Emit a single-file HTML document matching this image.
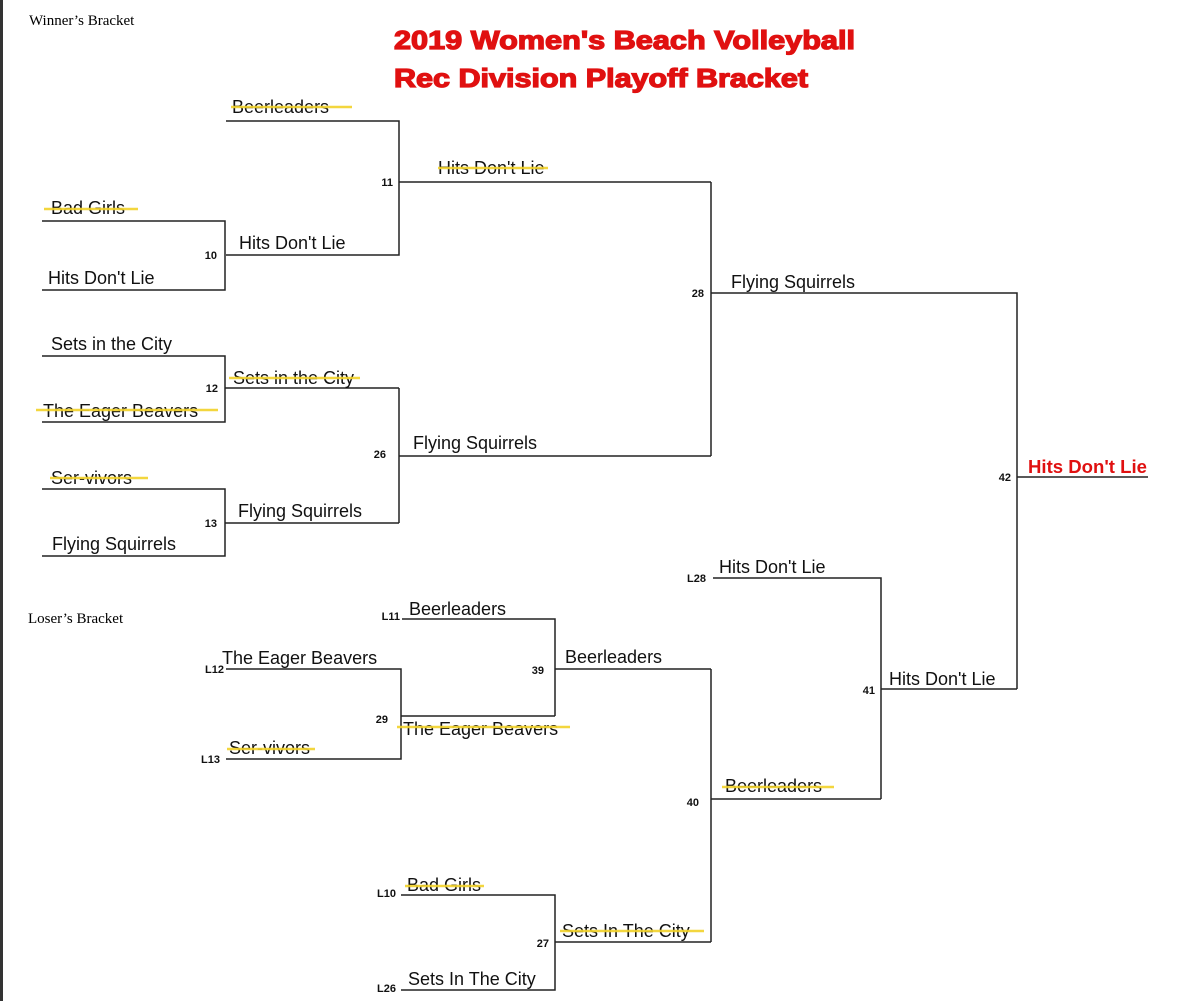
<!DOCTYPE html>
<html><head><meta charset="utf-8"><style>
html,body{margin:0;padding:0;background:#fff;}
svg{display:block;}
</style></head><body>
<svg width="1188" height="1001" xmlns="http://www.w3.org/2000/svg" font-family="Liberation Sans, Arial, sans-serif">
<rect width="1188" height="1001" fill="#fff"/>
<rect x="0" y="0" width="3" height="1001" fill="#333"/>
<text x="29" y="25" font-family="Liberation Serif, serif" font-size="15">Winner’s Bracket</text>
<text x="28" y="623" font-family="Liberation Serif, serif" font-size="15">Loser’s Bracket</text>
<g fill="#e01010" stroke="#e01010" stroke-width="1.3" font-weight="bold" font-size="26">
<text x="394" y="49" textLength="461" lengthAdjust="spacingAndGlyphs">2019 Women's Beach Volleyball</text>
<text x="394" y="87" textLength="414" lengthAdjust="spacingAndGlyphs">Rec Division Playoff Bracket</text>
</g>
<g stroke="#222" stroke-width="1.5" fill="none">
<path d="M226 121H399V255H226"/>
<path d="M399 182H711"/>
<path d="M42 221H225V290H42"/>
<path d="M42 356H225V422H42"/>
<path d="M225 388H399"/>
<path d="M42 489H225V556H42"/>
<path d="M225 523H399"/>
<path d="M399 388V523"/>
<path d="M399 456H711"/>
<path d="M711 182V456"/>
<path d="M711 293H1017V689"/>
<path d="M1017 477H1148"/>
<path d="M402 619H555V716"/>
<path d="M226 669H401V759H226"/>
<path d="M401 716H555"/>
<path d="M555 669H711"/>
<path d="M401 895H555V990H401"/>
<path d="M555 942H711"/>
<path d="M711 669V942"/>
<path d="M711 799H881"/>
<path d="M713 578H881V799"/>
<path d="M881 689H1017"/>
</g>
<g font-size="18" fill="#111">
<text x="232" y="113">Beerleaders</text>
<text x="438" y="174">Hits Don't Lie</text>
<text x="51" y="214">Bad Girls</text>
<text x="239" y="249">Hits Don't Lie</text>
<text x="48" y="284">Hits Don't Lie</text>
<text x="731" y="288">Flying Squirrels</text>
<text x="51" y="350">Sets in the City</text>
<text x="233" y="384">Sets in the City</text>
<text x="43" y="417">The Eager Beavers</text>
<text x="413" y="449">Flying Squirrels</text>
<text x="51" y="484">Ser-vivors</text>
<text x="238" y="517">Flying Squirrels</text>
<text x="52" y="550">Flying Squirrels</text>
<text x="719" y="573">Hits Don't Lie</text>
<text x="409" y="615">Beerleaders</text>
<text x="222" y="664">The Eager Beavers</text>
<text x="565" y="663">Beerleaders</text>
<text x="889" y="685">Hits Don't Lie</text>
<text x="403" y="735">The Eager Beavers</text>
<text x="229" y="754">Ser-vivors</text>
<text x="725" y="792">Beerleaders</text>
<text x="407" y="891">Bad Girls</text>
<text x="562" y="937">Sets In The City</text>
<text x="408" y="985">Sets In The City</text>
</g>
<text x="1028" y="473" font-size="18" font-weight="bold" fill="#e01010" textLength="119" lengthAdjust="spacingAndGlyphs">Hits Don't Lie</text>
<g stroke="#f2d22a" stroke-width="2.5" opacity="0.9">
<line x1="231" y1="107" x2="352" y2="107"/>
<line x1="438" y1="168" x2="548" y2="168"/>
<line x1="44" y1="209" x2="138" y2="209"/>
<line x1="229" y1="378" x2="360" y2="378"/>
<line x1="36" y1="410" x2="218" y2="410"/>
<line x1="50" y1="478" x2="148" y2="478"/>
<line x1="397" y1="727" x2="570" y2="727"/>
<line x1="227" y1="749" x2="315" y2="749"/>
<line x1="722" y1="787" x2="834" y2="787"/>
<line x1="405" y1="886" x2="484" y2="886"/>
<line x1="560" y1="931" x2="704" y2="931"/>
</g>
<g font-size="11" font-weight="bold" fill="#111" text-anchor="end">
<text x="393" y="186">11</text>
<text x="217" y="259">10</text>
<text x="218" y="392">12</text>
<text x="217" y="527">13</text>
<text x="386" y="458">26</text>
<text x="704" y="297">28</text>
<text x="1011" y="481">42</text>
<text x="400" y="620">L11</text>
<text x="224" y="673">L12</text>
<text x="544" y="674">39</text>
<text x="388" y="723">29</text>
<text x="220" y="763">L13</text>
<text x="706" y="582">L28</text>
<text x="875" y="694">41</text>
<text x="699" y="806">40</text>
<text x="396" y="897">L10</text>
<text x="549" y="947">27</text>
<text x="396" y="992">L26</text>
</g>
</svg>
</body></html>
